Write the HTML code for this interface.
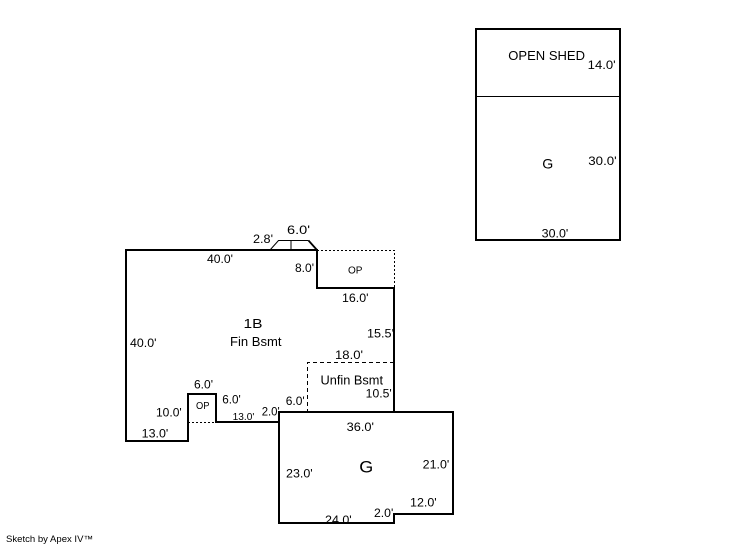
<!DOCTYPE html>
<html>
<head>
<meta charset="utf-8">
<style>
html,body{margin:0;padding:0;background:#fff;}
body{width:746px;height:547px;overflow:hidden;}
svg{display:block;}
text{font-family:"Liberation Sans",Arial,sans-serif;fill:#000;}
</style>
</head>
<body>
<svg width="746" height="547" viewBox="0 0 746 547" xmlns="http://www.w3.org/2000/svg">
<!-- Outbuilding -->
<rect x="476" y="29" width="144" height="211" fill="none" stroke="#000" stroke-width="2"/>
<line x1="476" y1="96.5" x2="620" y2="96.5" stroke="#000" stroke-width="1"/>

<!-- Dotted OP top right -->
<polyline points="317,250.5 394.5,250.5 394.5,288" fill="none" stroke="#000" stroke-width="1" stroke-dasharray="2,2"/>
<!-- Dotted OP bottom left -->
<line x1="188" y1="422.5" x2="216" y2="422.5" stroke="#000" stroke-width="1" stroke-dasharray="2,2"/>
<!-- Dashed Unfin Bsmt -->
<polyline points="394,362.5 307.5,362.5 307.5,412" fill="none" stroke="#000" stroke-width="1" stroke-dasharray="4,3"/>

<!-- Bump at top -->
<polyline points="270,250 278.5,240.5 308.5,240.5" fill="none" stroke="#000" stroke-width="1"/>
<line x1="308.5" y1="240.5" x2="317" y2="250" stroke="#000" stroke-width="1.8"/>
<line x1="291" y1="241" x2="291" y2="250" stroke="#000" stroke-width="1"/>

<!-- Main building outline -->
<polyline points="394,412 394,288 317,288 317,250 126,250 126,441 188,441 188,394 216,394 216,422 279,422" fill="none" stroke="#000" stroke-width="2" stroke-linejoin="miter"/>

<!-- Garage -->
<polygon points="279,412 453,412 453,514 394,514 394,523 279,523" fill="none" stroke="#000" stroke-width="2"/>

<!-- Labels -->
<g font-size="12">
<text x="287" y="234" textLength="23" lengthAdjust="spacingAndGlyphs">6.0'</text>
<text x="253" y="243" textLength="20" lengthAdjust="spacingAndGlyphs">2.8'</text>
<text x="207" y="263" textLength="26" lengthAdjust="spacingAndGlyphs">40.0'</text>
<text x="295" y="272" textLength="19" lengthAdjust="spacingAndGlyphs">8.0'</text>
<text x="342" y="302" textLength="26.5" lengthAdjust="spacingAndGlyphs">16.0'</text>
<text x="130" y="347" textLength="26.5" lengthAdjust="spacingAndGlyphs">40.0'</text>
<text x="367" y="337.5" textLength="27" lengthAdjust="spacingAndGlyphs">15.5'</text>
<text x="335" y="359" textLength="28" lengthAdjust="spacingAndGlyphs">18.0'</text>
<text x="365.7" y="397.3" textLength="26" lengthAdjust="spacingAndGlyphs">10.5'</text>
<text x="194" y="388.3" textLength="19" lengthAdjust="spacingAndGlyphs">6.0'</text>
<text x="222.3" y="403.3" textLength="18.5" lengthAdjust="spacingAndGlyphs">6.0'</text>
<text x="156" y="416.7" textLength="25.7" lengthAdjust="spacingAndGlyphs">10.0'</text>
<text x="261.7" y="415.7" textLength="18" lengthAdjust="spacingAndGlyphs">2.0'</text>
<text x="285.7" y="405" textLength="19" lengthAdjust="spacingAndGlyphs">6.0'</text>
<text x="141.7" y="437.3" textLength="26.6" lengthAdjust="spacingAndGlyphs">13.0'</text>
<text x="346.7" y="431" textLength="27.3" lengthAdjust="spacingAndGlyphs">36.0'</text>
<text x="286" y="477.3" textLength="26.7" lengthAdjust="spacingAndGlyphs">23.0'</text>
<text x="422.7" y="468.3" textLength="26.6" lengthAdjust="spacingAndGlyphs">21.0'</text>
<text x="410" y="506.7" textLength="26.7" lengthAdjust="spacingAndGlyphs">12.0'</text>
<text x="325" y="524" textLength="26.7" lengthAdjust="spacingAndGlyphs">24.0'</text>
<text x="374" y="517" textLength="19.3" lengthAdjust="spacingAndGlyphs">2.0'</text>
<text x="587.7" y="69" textLength="28" lengthAdjust="spacingAndGlyphs">14.0'</text>
<text x="588.3" y="165" textLength="28.4" lengthAdjust="spacingAndGlyphs">30.0'</text>
<text x="541.7" y="237.3" textLength="26.6" lengthAdjust="spacingAndGlyphs">30.0'</text>
</g>
<g font-size="10">
<text x="348" y="273.5" textLength="14.5" lengthAdjust="spacingAndGlyphs">OP</text>
<text x="196" y="409" textLength="13.5" lengthAdjust="spacingAndGlyphs">OP</text>
<text x="232.7" y="420" textLength="21.6" lengthAdjust="spacingAndGlyphs">13.0'</text>
</g>
<g font-size="13">
<text x="243.5" y="328" textLength="19" lengthAdjust="spacingAndGlyphs">1B</text>
<text x="230" y="346" textLength="51.5" lengthAdjust="spacingAndGlyphs">Fin Bsmt</text>
<text x="320.5" y="384.5" textLength="62.5" lengthAdjust="spacingAndGlyphs">Unfin Bsmt</text>
<text x="508.3" y="60" textLength="76.7" lengthAdjust="spacingAndGlyphs">OPEN SHED</text>
</g>
<text x="359.3" y="472.3" font-size="17" textLength="14" lengthAdjust="spacingAndGlyphs">G</text>
<text x="542.3" y="168.3" font-size="14" textLength="11" lengthAdjust="spacingAndGlyphs">G</text>
<text x="6" y="542" font-size="9" textLength="87" lengthAdjust="spacingAndGlyphs">Sketch by Apex IV™</text>
</svg>
</body>
</html>
